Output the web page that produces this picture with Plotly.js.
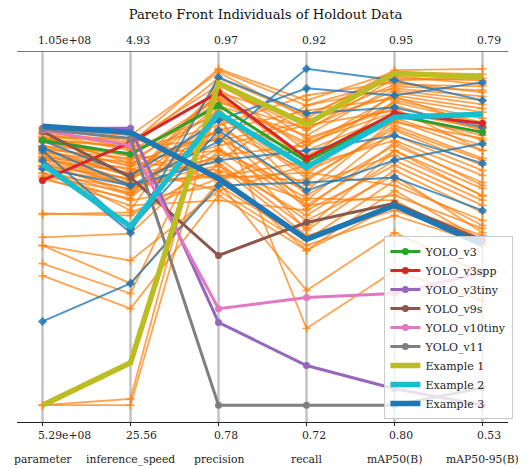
<!DOCTYPE html>
<html>
<head>
<meta charset="utf-8">
<script src="https://cdn.plot.ly/plotly-3.0.1.min.js"></script>
<style>html,body{margin:0;padding:0;background:#fff;}#chart{width:531px;height:468px;}</style>
</head>
<body>
<div id="chart"></div>
<script>
// Dimensions (axes) of the parallel-coordinates chart
const dimNames = ['parameter', 'inference_speed', 'precision', 'recall', 'mAP50(B)', 'mAP50-95(B)'];
const topLabels = ['1.05e+08', '4.93', '0.97', '0.92', '0.95', '0.79'];
const bottomLabels = ['5.29e+08', '25.56', '0.78', '0.72', '0.80', '0.53'];

// Values are positions on each axis: 0 = bottom label, 1 = top label
// Pareto front individuals (orange)
const indParam = [0.823,0.811,0.808,0.795,0.796,0.788,0.784,0.770,0.772,0.761,0.760,0.751,0.749,0.738,0.737,0.729,0.725,0.712,0.713,0.702,0.701,0.690,0.689,0.681,0.677,0.671,0.805,0.793,0.781,0.769,0.757,0.746,0.734,0.722,0.710,0.570,0.567,0.499,0.475,0.475,0.421,0.385,0.000,0.000,0.817,0.799,0.763,0.740];
const indSpeed = [0.802,0.784,0.757,0.793,0.743,0.769,0.728,0.751,0.713,0.734,0.698,0.722,0.683,0.704,0.668,0.692,0.653,0.674,0.638,0.662,0.624,0.644,0.609,0.632,0.594,0.615,0.778,0.766,0.740,0.710,0.686,0.668,0.650,0.627,0.579,0.564,0.573,0.510,0.430,0.362,0.332,0.287,0.019,0.000,0.763,0.719,0.680,0.656];
const indPrecision = [0.990,0.951,0.832,0.728,0.912,0.787,0.871,0.668,0.921,0.757,0.817,0.698,0.891,0.638,0.847,0.772,0.713,0.942,0.802,0.683,0.882,0.743,0.653,0.823,0.609,0.853,1.000,0.972,0.900,0.793,0.734,0.930,0.692,0.763,0.960,0.713,0.674,0.757,0.638,0.662,0.879,0.624,0.996,0.906,0.862,0.811,0.722,0.680];
const indRecall = [0.853,0.817,0.921,0.891,0.772,0.841,0.683,0.787,0.728,0.638,0.876,0.609,0.802,0.713,0.594,0.832,0.564,0.757,0.519,0.668,0.624,0.772,0.490,0.698,0.579,0.743,0.906,0.862,0.823,0.653,0.549,0.847,0.460,0.615,0.793,0.504,0.692,0.594,0.475,0.341,0.228,0.460,0.891,0.781,0.674,0.585,0.525,0.723];
const indMap50 = [0.996,0.972,0.960,0.942,0.921,0.954,0.906,0.891,0.930,0.847,0.912,0.817,0.948,0.787,0.757,0.876,0.728,0.862,0.698,0.832,0.772,0.900,0.668,0.802,0.713,0.853,0.990,0.978,0.936,0.743,0.683,0.918,0.638,0.609,0.882,0.579,0.653,0.624,0.564,0.513,0.400,0.594,0.966,0.871,0.823,0.781,0.757,0.841];
const indMap5095 = [1.000,0.966,0.930,0.918,0.882,0.948,0.853,0.817,0.894,0.757,0.871,0.713,0.936,0.683,0.644,0.787,0.609,0.802,0.573,0.734,0.662,0.841,0.534,0.698,0.594,0.772,0.984,0.954,0.906,0.624,0.513,0.829,0.490,0.475,0.757,0.496,0.549,0.525,0.481,0.391,0.311,0.504,0.972,0.823,0.728,0.653,0.621,0.793];

// Other individuals (blue, diamonds)
const altParam = [0.766,0.728,0.704,0.249,0.757,0.787];
const altSpeed = [0.653,0.513,0.653,0.362,0.525,0.683];
const altPrecision = [0.784,0.975,0.728,0.653,0.817,0.847];
const altRecall = [1.000,0.868,0.757,0.662,0.638,0.942];
const altMap50 = [0.966,0.885,0.802,0.677,0.728,0.921];
const altMap5095 = [0.906,0.826,0.719,0.579,0.778,0.960];

// Baseline models
const modelNames = ['YOLO_v3','YOLO_v3spp','YOLO_v3tiny','YOLO_v9s','YOLO_v10tiny','YOLO_v11'];
const modelColors = ['#2ca02c','#d62728','#9467bd','#8c564b','#e377c2','#7f7f7f'];
const modelParam = [0.787,0.668,0.823,0.814,0.817,0.820];
const modelSpeed = [0.746,0.781,0.823,0.677,0.772,0.793];
const modelPrecision = [0.891,0.930,0.246,0.445,0.287,0.000];
const modelRecall = [0.725,0.734,0.118,0.543,0.320,0.000];
const modelMap50 = [0.862,0.868,0.049,0.600,0.332,0.000];
const modelMap5095 = [0.811,0.838,0.000,0.490,0.394,0.052];

// Highlighted examples
const exNames = ['Example 1','Example 2','Example 3'];
const exColors = ['#bcbd22','#17becf','#1f77b4'];
const exParam = [0.000,0.716,0.829];
const exSpeed = [0.126,0.531,0.811];
const exPrecision = [0.957,0.868,0.674];
const exRecall = [0.835,0.707,0.493];
const exMap50 = [0.987,0.856,0.594];
const exMap5095 = [0.975,0.865,0.478];

const xIdx = dimNames.map((d, i) => i);
function row(cols, k) { return cols.map(c => c[k]); }

const traces = [];
const FONT = 'DejaVu Serif';
const TXT = '#222';

const indCols = [indParam, indSpeed, indPrecision, indRecall, indMap50, indMap5095];
for (let k = 0; k < indParam.length; k++) {
  traces.push({
    type: 'scatter', mode: 'lines+markers', x: xIdx, y: row(indCols, k),
    line: {color: 'rgba(255,127,14,0.72)', width: 1.8},
    marker: {symbol: 'cross-thin', size: 6, color: 'rgba(255,127,14,0.72)', line: {color: 'rgba(255,127,14,0.72)', width: 1.5}},
    showlegend: false, hoverinfo: 'skip'
  });
}
const altCols = [altParam, altSpeed, altPrecision, altRecall, altMap50, altMap5095];
for (let k = 0; k < altParam.length; k++) {
  traces.push({
    type: 'scatter', mode: 'lines+markers', x: xIdx, y: row(altCols, k),
    line: {color: 'rgba(31,119,180,0.78)', width: 2},
    marker: {symbol: 'diamond', size: 7, color: 'rgba(31,119,180,0.85)'},
    showlegend: false, hoverinfo: 'skip'
  });
}
const modelCols = [modelParam, modelSpeed, modelPrecision, modelRecall, modelMap50, modelMap5095];
for (let k = 0; k < modelNames.length; k++) {
  traces.push({
    type: 'scatter', mode: 'lines+markers', name: modelNames[k], x: xIdx, y: row(modelCols, k),
    line: {color: modelColors[k], width: 3},
    marker: {symbol: 'circle', size: 7, color: modelColors[k]},
    hoverinfo: 'skip'
  });
}
const exCols = [exParam, exSpeed, exPrecision, exRecall, exMap50, exMap5095];
for (let k = 0; k < exNames.length; k++) {
  traces.push({
    type: 'scatter', mode: 'lines', name: exNames[k], x: xIdx, y: row(exCols, k),
    line: {color: exColors[k], width: 5.5},
    hoverinfo: 'skip'
  });
}
// invisible trace to anchor the top axis
traces.push({type: 'scatter', mode: 'markers', x: xIdx, y: xIdx.map(() => 1), xaxis: 'x2',
  marker: {opacity: 0}, showlegend: false, hoverinfo: 'skip'});

const shapes = xIdx.map(i => ({
  type: 'line', xref: 'x', yref: 'paper', x0: i, x1: i, y0: 0, y1: 1,
  line: {color: 'rgba(145,145,145,0.55)', width: 2.5}, layer: 'below'
}));

const annotations = [];
dimNames.forEach((d, i) => {
  annotations.push({text: d, xref: 'x', yref: 'paper', x: i, y: 0, yshift: -37, yanchor: 'middle', xanchor: 'center',
    showarrow: false, font: {family: FONT, size: 10.8, color: TXT}});
  // axis bottom / top value labels (left-aligned just left of each axis, as in the original)
  annotations.push({text: bottomLabels[i], xref: 'x', yref: 'paper', x: i, y: 0, xshift: -7, yshift: -13,
    xanchor: 'left', yanchor: 'middle', showarrow: false, font: {family: FONT, size: 10.8, color: TXT}});
  annotations.push({text: topLabels[i], xref: 'x', yref: 'paper', x: i, y: 1, xshift: -7, yshift: 12,
    xanchor: 'left', yanchor: 'middle', showarrow: false, font: {family: FONT, size: 10.8, color: TXT}});
});

const xr = [-0.29, 5.29];
const layout = {
  width: 531, height: 468,
  margin: {l: 17, r: 23, t: 52, b: 46},
  paper_bgcolor: '#fff', plot_bgcolor: '#fff',
  title: {text: 'Pareto Front Individuals of Holdout Data', font: {family: FONT, size: 13.2, color: '#111'},
    x: 0.5, xanchor: 'center', y: 0.970, yanchor: 'middle'},
  showlegend: true,
  legend: {x: 1.011, xanchor: 'right', y: 0.008, yanchor: 'bottom',
    bgcolor: 'rgba(255,255,255,0.8)', bordercolor: '#cccccc', borderwidth: 1,
    font: {family: FONT, size: 11, color: TXT}, tracegroupgap: 0},
  xaxis: {range: xr, tickmode: 'array', tickvals: xIdx, showticklabels: false,
    showgrid: false, zeroline: false, showline: true, linecolor: '#222', linewidth: 1,
    ticks: 'outside', ticklen: 3, tickcolor: '#222'},
  xaxis2: {range: xr, overlaying: 'x', side: 'top', tickmode: 'array', tickvals: xIdx, showticklabels: false,
    showgrid: false, zeroline: false, showline: true, linecolor: '#777', linewidth: 1.2, ticks: ''},
  yaxis: {range: [-0.05, 1.05], visible: false, showgrid: false, zeroline: false, fixedrange: true},
  shapes: shapes,
  annotations: annotations
};

Plotly.newPlot('chart', traces, layout, {staticPlot: true, displayModeBar: false});
</script>
</body>
</html>
